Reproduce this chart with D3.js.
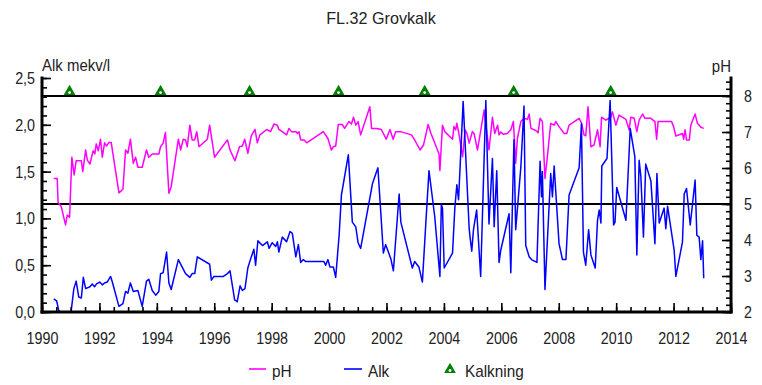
<!DOCTYPE html>
<html>
<head>
<meta charset="utf-8">
<script src="https://cdn.jsdelivr.net/npm/d3@7"></script>
<style>
  html, body { margin: 0; padding: 0; background: #fff; }
  svg text { font-family: "Liberation Sans", Arial, sans-serif; fill: #222; }
</style>
</head>
<body>
<svg id="chart" width="762" height="385"></svg>
<script>
// pH samples (decimal year, pH)
const phYears = [1990.41,1990.53,1990.56,1990.67,1990.82,1990.88,1990.96,1991.04,1991.12,1991.19,1991.37,1991.42,1991.52,1991.58,1991.67,1991.78,1991.84,1991.89,1991.96,1992.04,1992.10,1992.18,1992.25,1992.33,1992.41,1992.68,1992.82,1992.91,1992.99,1993.08,1993.18,1993.26,1993.34,1993.49,1993.64,1993.72,1993.84,1994.07,1994.13,1994.22,1994.30,1994.42,1994.50,1994.75,1994.83,1994.92,1995.00,1995.06,1995.15,1995.23,1995.32,1995.39,1995.47,1995.76,1995.84,1996.01,1996.46,1996.55,1996.72,1996.88,1996.98,1997.06,1997.17,1997.29,1997.42,1997.50,1997.59,1997.83,1997.96,1998.08,1998.20,1998.25,1998.37,1998.52,1998.60,1998.69,1998.84,1998.90,1998.95,1999.01,1999.13,1999.22,1999.80,1999.96,2000.08,2000.15,2000.23,2000.32,2000.46,2000.54,2000.69,2000.78,2000.85,2000.93,2001.01,2001.10,2001.42,2001.48,2001.66,2001.82,2001.99,2002.12,2002.23,2002.32,2002.49,2002.87,2002.98,2003.17,2003.29,2003.45,2003.54,2003.83,2003.86,2003.95,2004.03,2004.30,2004.35,2004.41,2004.45,2004.51,2004.65,2004.74,2004.80,2004.88,2004.99,2005.05,2005.17,2005.40,2005.57,2005.69,2005.77,2005.87,2005.92,2005.98,2006.06,2006.21,2006.33,2006.42,2006.50,2006.56,2006.68,2006.79,2006.91,2006.97,2007.03,2007.20,2007.28,2007.35,2007.43,2007.52,2007.61,2007.72,2007.84,2007.90,2008.01,2008.19,2008.28,2008.36,2008.71,2008.80,2008.88,2008.94,2009.02,2009.12,2009.23,2009.35,2009.44,2009.49,2009.64,2009.81,2009.87,2009.99,2010.10,2010.34,2010.45,2010.51,2010.63,2010.72,2010.80,2010.92,2011.00,2011.21,2011.35,2011.41,2011.46,2011.84,2011.93,2012.00,2012.08,2012.31,2012.35,2012.40,2012.45,2012.55,2012.60,2012.75,2012.83,2012.95,2013.05];
const phValues = [5.71,5.71,5.04,4.93,4.42,4.69,4.63,6.30,5.81,6.20,6.20,5.90,6.50,6.22,6.11,6.48,6.39,6.67,6.48,6.80,6.30,6.70,6.61,6.71,6.71,5.31,5.41,6.50,6.41,6.80,6.13,6.30,6.02,6.02,6.50,6.30,6.39,6.39,6.59,6.69,6.99,5.30,5.48,6.80,6.50,6.80,6.78,6.59,7.19,6.78,6.78,7.01,6.59,6.80,7.19,6.30,6.78,6.50,6.20,6.59,6.61,6.80,6.41,6.89,7.07,6.70,6.92,7.07,7.01,7.22,7.19,7.07,7.01,6.92,7.10,7.01,7.01,6.96,7.01,6.78,6.78,6.70,7.01,6.82,6.50,6.59,6.61,7.21,7.21,7.10,7.29,7.22,7.41,7.19,7.29,6.92,7.70,7.10,7.10,7.07,6.80,7.07,6.80,7.01,7.01,6.92,6.78,6.50,6.64,7.21,6.98,6.39,5.93,7.19,7.01,6.80,7.15,7.06,7.24,7.01,6.31,7.06,6.96,6.69,7.01,6.96,6.50,7.61,6.50,7.41,6.96,7.19,6.92,7.00,6.94,6.96,7.06,7.29,6.13,6.82,7.29,7.38,7.35,7.50,7.10,7.04,6.98,7.38,7.29,5.71,6.36,7.24,7.19,7.29,7.15,6.96,6.96,7.19,7.38,7.24,6.92,6.89,7.70,6.59,6.64,7.06,6.59,7.41,7.33,7.41,7.56,7.19,7.47,7.35,7.06,7.41,7.38,7.01,7.33,7.50,7.38,7.38,7.29,6.80,7.29,7.29,7.29,7.15,6.89,6.96,6.80,7.06,6.78,6.78,7.19,7.50,7.24,7.13,7.10];

// Alkalinity samples (decimal year, mekv/l)
const alkYears = [1990.41,1990.51,1990.58,1990.62,1990.98,1991.02,1991.11,1991.19,1991.28,1991.37,1991.44,1991.52,1991.67,1991.75,1991.83,1991.90,1992.01,1992.10,1992.18,1992.27,1992.39,1992.45,1992.68,1992.82,1992.91,1992.99,1993.08,1993.18,1993.34,1993.49,1993.64,1993.72,1993.84,1993.96,1994.07,1994.13,1994.22,1994.34,1994.42,1994.50,1994.75,1995.00,1995.15,1995.23,1995.32,1995.41,1995.84,1995.90,1995.99,1996.32,1996.46,1996.55,1996.71,1996.80,1996.90,1996.98,1997.07,1997.17,1997.27,1997.38,1997.44,1997.52,1997.68,1997.85,1997.91,1998.02,1998.14,1998.20,1998.25,1998.37,1998.52,1998.64,1998.72,1998.84,1998.93,1999.01,1999.10,1999.18,1999.82,1999.88,1999.96,2000.03,2000.15,2000.23,2000.35,2000.43,2000.67,2000.81,2000.93,2001.01,2001.10,2001.51,2001.70,2001.80,2001.89,2001.97,2002.15,2002.24,2002.44,2002.50,2002.90,2002.98,2003.13,2003.25,2003.37,2003.48,2003.68,2003.86,2003.91,2003.95,2004.01,2004.30,2004.38,2004.45,2004.51,2004.67,2004.88,2004.91,2004.97,2005.03,2005.14,2005.28,2005.46,2005.57,2005.69,2005.75,2005.84,2005.92,2005.98,2006.27,2006.33,2006.44,2006.50,2006.68,2006.79,2006.85,2006.97,2007.05,2007.24,2007.35,2007.40,2007.43,2007.52,2007.72,2007.78,2007.84,2008.01,2008.13,2008.25,2008.36,2008.71,2008.79,2008.86,2008.94,2009.04,2009.12,2009.27,2009.35,2009.41,2009.47,2009.50,2009.68,2009.79,2009.91,2009.96,2010.02,2010.34,2010.49,2010.65,2010.72,2010.80,2010.86,2010.95,2011.03,2011.21,2011.35,2011.42,2011.50,2011.67,2011.73,2011.79,2012.02,2012.08,2012.31,2012.37,2012.45,2012.58,2012.75,2012.81,2012.89,2012.95,2013.01,2013.05];
const alkValues = [0.14,0.12,0.02,0.00,0.00,0.02,0.25,0.33,0.16,0.15,0.37,0.25,0.27,0.30,0.27,0.30,0.32,0.29,0.31,0.32,0.38,0.32,0.06,0.09,0.22,0.20,0.31,0.22,0.23,0.06,0.33,0.35,0.23,0.18,0.22,0.41,0.42,0.64,0.31,0.24,0.56,0.41,0.37,0.41,0.41,0.59,0.51,0.34,0.38,0.38,0.41,0.44,0.13,0.11,0.28,0.23,0.25,0.47,0.57,0.67,0.50,0.76,0.71,0.75,0.68,0.74,0.70,0.75,0.64,0.80,0.75,0.86,0.84,0.59,0.72,0.53,0.56,0.54,0.54,0.50,0.56,0.48,0.48,0.37,0.82,1.25,1.68,0.96,0.91,0.74,0.68,1.37,1.54,1.07,0.63,0.72,0.57,0.44,1.26,0.96,0.47,0.54,0.48,0.32,0.95,1.51,1.02,0.38,1.15,1.11,0.47,0.63,1.11,1.36,1.20,2.25,0.89,0.80,0.65,0.88,1.09,0.38,2.26,0.94,1.64,0.91,1.51,0.53,0.66,1.05,0.42,1.84,0.88,1.55,2.20,0.71,0.59,0.56,0.53,1.61,1.23,1.50,0.24,1.48,1.23,1.56,0.73,0.56,0.56,1.25,1.54,2.01,0.64,0.50,0.88,0.61,0.47,0.98,1.09,0.95,1.56,1.64,2.26,0.93,0.96,1.33,0.98,1.96,1.66,0.61,1.62,1.45,0.80,1.58,1.40,0.73,1.48,0.95,1.11,0.89,1.13,0.66,0.38,0.75,1.26,1.32,0.93,1.41,0.82,0.80,0.56,0.76,0.36];

// Liming events (decimal year), drawn along the top on the Alk scale
const kalkYears = [1990.96, 1994.13, 1997.23, 2000.33, 2003.33, 2006.43, 2009.81];
const kalkLevel = 2.36;

// Reference lines on the pH scale
const phRefLines = [8, 5];

// Tick values
const yearTicks = d3.range(1990, 2015, 2);
const yearMinor = d3.range(1990, 2014.01, 0.5);
const alkTicks = [0, 0.5, 1.0, 1.5, 2.0, 2.5];
const alkMinor = d3.range(0, 2.501, 0.1);
const phTicks = [2, 3, 4, 5, 6, 7, 8];
const phMinor = d3.range(2, 8.501, 0.2);

const svg = d3.select("#chart");
const plotL = 42, plotR = 731, plotT = 78, plotB = 312;

const x = d3.scaleLinear().domain([1990, 2014]).range([plotL, plotR]);
const yAlk = d3.scaleLinear().domain([0, 2.5]).range([plotB, plotT]);
const yPh = d3.scaleLinear().domain([2, 8.5]).range([plotB, plotT]);

const comma = d => d3.format(".1f")(d).replace(".", ",");

// Narrow the lettering horizontally (condensed face look)
function condense(sel, k) {
  sel.each(function () {
    const w = this.getComputedTextLength();
    if (w > 0) d3.select(this).attr("textLength", w * k).attr("lengthAdjust", "spacingAndGlyphs");
  });
}

svg.append("defs").append("clipPath").attr("id", "plot")
  .append("rect").attr("x", plotL).attr("y", plotT).attr("width", plotR - plotL).attr("height", plotB - plotT);

// Title
svg.append("text").attr("x", 381).attr("y", 24).attr("text-anchor", "middle")
  .style("font-size", "17px").text("FL.32 Grovkalk").call(condense, 0.95);

// Axis titles
svg.append("text").attr("x", 42).attr("y", 71).style("font-size", "17px").text("Alk mekv/l").call(condense, 0.88);
svg.append("text").attr("x", 731).attr("y", 72).attr("text-anchor", "end").style("font-size", "17px").text("pH").call(condense, 0.88);

// Reference lines
svg.append("g").selectAll("line").data(phRefLines).join("line")
  .attr("x1", plotL).attr("x2", plotR)
  .attr("y1", d => yPh(d)).attr("y2", d => yPh(d))
  .attr("stroke", "#000").attr("stroke-width", 2.2);

// Series
const plot = svg.append("g").attr("clip-path", "url(#plot)");
const phData = phYears.map((t, i) => [t, phValues[i]]);
const alkData = alkYears.map((t, i) => [t, alkValues[i]]);

plot.append("path").datum(phData)
  .attr("fill", "none").attr("stroke", "#ff00ff").attr("stroke-width", 1.5)
  .attr("stroke-linejoin", "round")
  .attr("d", d3.line().x(d => x(d[0])).y(d => yPh(d[1])));

plot.append("path").datum(alkData)
  .attr("fill", "none").attr("stroke", "#0000ff").attr("stroke-width", 1.5)
  .attr("stroke-linejoin", "round")
  .attr("d", d3.line().x(d => x(d[0])).y(d => yAlk(d[1])));

// Liming markers
const tri = d3.symbol().type(d3.symbolTriangle).size(60);
function marker(g) {
  g.append("path").attr("d", tri).attr("fill", "#008000").attr("transform", "translate(0,0.5)");
  g.append("circle").attr("r", 1.4).attr("cy", 1.5).attr("fill", "#fff");
}
svg.append("g").selectAll("g").data(kalkYears).join("g")
  .attr("transform", d => `translate(${x(d)},${yAlk(kalkLevel)})`)
  .each(function () { marker(d3.select(this)); });

// Axes: ticks point into the plot
function styleAxis(g) {
  g.select(".domain").remove();
  g.selectAll(".tick line").attr("stroke", "#000").attr("stroke-width", 1.6);
  g.selectAll(".tick text").style("font-size", "17px").attr("fill", "#222").call(condense, 0.84);
}

svg.append("g").attr("transform", `translate(0,${plotB})`)
  .call(d3.axisBottom(x).tickValues(yearMinor).tickSize(-5).tickFormat(""))
  .call(styleAxis);
svg.append("g").attr("transform", `translate(0,${plotB})`)
  .call(d3.axisBottom(x).tickValues(yearTicks).tickSize(-9).tickPadding(20).tickFormat(d3.format("d")))
  .call(styleAxis);

svg.append("g").attr("transform", `translate(${plotL},0)`)
  .call(d3.axisLeft(yAlk).tickValues(alkMinor).tickSize(-5).tickFormat(""))
  .call(styleAxis);
svg.append("g").attr("transform", `translate(${plotL},0)`)
  .call(d3.axisLeft(yAlk).tickValues(alkTicks).tickSize(-9).tickPadding(7).tickFormat(comma))
  .call(styleAxis);

svg.append("g").attr("transform", `translate(${plotR},0)`)
  .call(d3.axisRight(yPh).tickValues(phMinor).tickSize(-5).tickFormat(""))
  .call(styleAxis);
svg.append("g").attr("transform", `translate(${plotR},0)`)
  .call(d3.axisRight(yPh).tickValues(phTicks).tickSize(-9).tickPadding(13).tickFormat(d3.format("d")))
  .call(styleAxis);

// Axis lines
const frame = svg.append("g").attr("stroke", "#000").attr("stroke-width", 3).attr("stroke-linecap", "square");
frame.append("line").attr("x1", plotL).attr("x2", plotL).attr("y1", plotT).attr("y2", plotB);
frame.append("line").attr("x1", plotR).attr("x2", plotR).attr("y1", plotT).attr("y2", plotB);
frame.append("line").attr("x1", plotL).attr("x2", plotR).attr("y1", plotB).attr("y2", plotB);

// Legend
const legend = svg.append("g").style("font-size", "17px");
legend.append("line").attr("x1", 249).attr("x2", 266).attr("y1", 369).attr("y2", 369)
  .attr("stroke", "#ff00ff").attr("stroke-width", 1.6);
legend.append("text").attr("x", 272).attr("y", 377).text("pH");
legend.append("line").attr("x1", 344).attr("x2", 362).attr("y1", 369).attr("y2", 369)
  .attr("stroke", "#0000ff").attr("stroke-width", 1.6);
legend.append("text").attr("x", 368).attr("y", 377).text("Alk");
legend.append("g").attr("transform", "translate(450,369)").call(marker);
legend.append("text").attr("x", 465).attr("y", 377).text("Kalkning");
legend.selectAll("text").call(condense, 0.9);
</script>
</body>
</html>
